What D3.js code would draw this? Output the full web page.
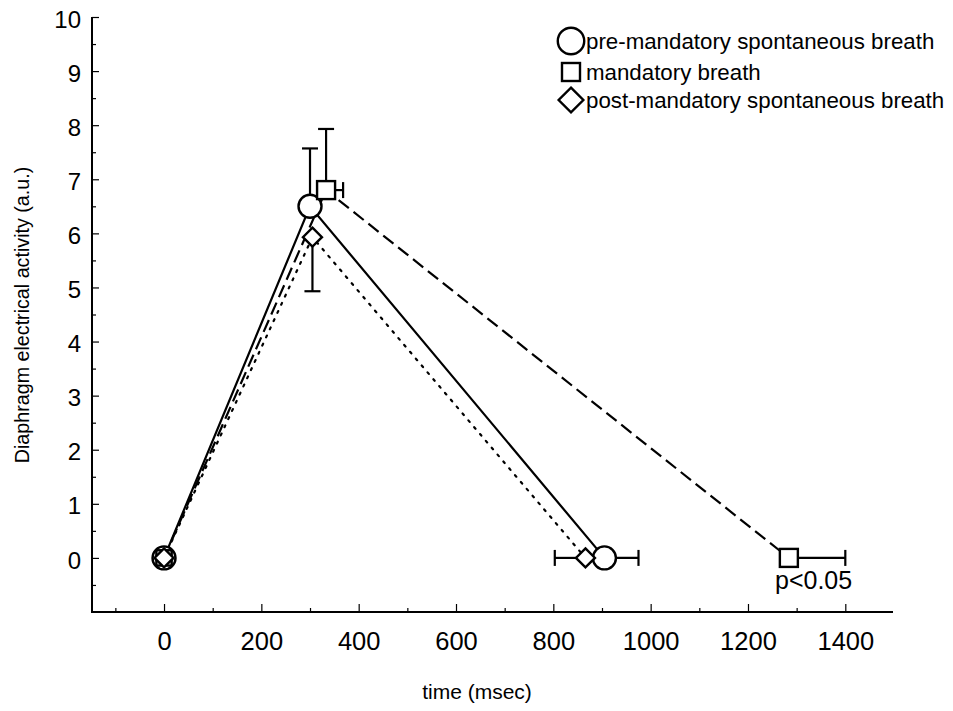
<!DOCTYPE html>
<html><head><meta charset="utf-8">
<script src="https://cdn.jsdelivr.net/npm/d3@7/dist/d3.min.js"></script>
<style>body{margin:0;background:#fff}text{font-family:"Liberation Sans",Arial,sans-serif;fill:#000}</style>
</head><body><svg id="c" width="953" height="711"></svg>
<script>
const xTicks = [0,200,400,600,800,1000,1200,1400];
const yTicks = [0,1,2,3,4,5,6,7,8,9,10];
const seriesNames = ["pre-mandatory spontaneous breath","mandatory breath","post-mandatory spontaneous breath"];
const preX = [0,300,905], preY = [0,6.5,0];
const manX = [0,333,1284], manY = [0,6.8,0];
const postX = [0,305,866], postY = [0,5.93,0];
// error bars: [x, y, x1, y1] end points
const preErr = [[300,6.5,300,7.57],[905,0,975,0]];
const manErr = [[333,6.8,333,7.93],[333,6.8,368,6.8],[1284,0,1400,0]];
const postErr = [[305,5.93,305,4.93],[866,0,803,0]];
const note = "p<0.05";

const svg = d3.select("#c");
const x = d3.scaleLinear().domain([-148,1498]).range([92,893]);
const y = d3.scaleLinear().domain([-1,10]).range([612,17]);

// axes
const g = svg.append("g");
g.append("line").attr("x1",92).attr("x2",92).attr("y1",y(10)).attr("y2",612).attr("stroke","#000").attr("stroke-width",2);
g.append("line").attr("x1",91).attr("x2",893).attr("y1",612).attr("y2",612).attr("stroke","#000").attr("stroke-width",2.2);
const xa = svg.append("g").attr("transform","translate(0,612)")
  .call(d3.axisBottom(x).tickValues(xTicks).tickSize(-8).tickPadding(20).tickFormat(d3.format("d")));
xa.select(".domain").remove();
xa.selectAll("text").attr("font-size",25.5);
const xm = svg.append("g").attr("transform","translate(0,612)")
  .call(d3.axisBottom(x).tickValues(d3.range(-100,1500,200)).tickSize(-4).tickFormat(""));
xm.select(".domain").remove();
const ya = svg.append("g").attr("transform","translate(92,0)")
  .call(d3.axisLeft(y).tickValues(yTicks).tickSize(-7).tickPadding(11).tickFormat(d3.format("d")));
ya.select(".domain").remove();
ya.selectAll("text").attr("font-size",24).attr("dy","0.42em");
const ym = svg.append("g").attr("transform","translate(92,0)")
  .call(d3.axisLeft(y).tickValues(d3.range(-0.5,10,1)).tickSize(-4).tickFormat(""));
ym.select(".domain").remove();
svg.selectAll(".tick line").attr("stroke-width",1.2);

svg.append("text").attr("x",477).attr("y",699).attr("text-anchor","middle").attr("font-size",21).text("time (msec)");
svg.append("text").attr("transform","translate(29,315) rotate(-90)").attr("text-anchor","middle").attr("font-size",19.7).text("Diaphragm electrical activity (a.u.)");

const line = d3.line().x(d=>x(d[0])).y(d=>y(d[1]));
const zip = (a,b)=>a.map((v,i)=>[v,b[i]]);
const series = [
  {xs:preX, ys:preY, err:preErr, dash:null, sym:"circle"},
  {xs:manX, ys:manY, err:manErr, dash:"13,6", sym:"square"},
  {xs:postX, ys:postY, err:postErr, dash:"2,7", sym:"diamond"}
];
// error bars
series.forEach(s=>{
  s.err.forEach(e=>{
    svg.append("line").attr("x1",x(e[0])).attr("y1",y(e[1])).attr("x2",x(e[2])).attr("y2",y(e[3])).attr("stroke","#000").attr("stroke-width",2.2);
    const vertical = e[0]===e[2];
    if(vertical){
      svg.append("line").attr("x1",x(e[2])-8).attr("x2",x(e[2])+8).attr("y1",y(e[3])).attr("y2",y(e[3])).attr("stroke","#000").attr("stroke-width",2.2);
    } else {
      svg.append("line").attr("x1",x(e[2])).attr("x2",x(e[2])).attr("y1",y(e[3])-8).attr("y2",y(e[3])+8).attr("stroke","#000").attr("stroke-width",2.2);
    }
  });
});
// lines
series.forEach(s=>{
  svg.append("path").attr("d",line(zip(s.xs,s.ys))).attr("fill","none").attr("stroke","#000").attr("stroke-width",2.2)
    .attr("stroke-dasharray",s.dash).attr("stroke-linecap",s.dash==="2,7"?"round":"butt");
});
function sym(type,cx,cy,sc){
  sc = sc||1;
  if(type==="circle") return svg.append("circle").attr("cx",cx).attr("cy",cy).attr("r",11.5*sc).attr("fill","#fff").attr("stroke","#000").attr("stroke-width",2.4);
  if(type==="square") return svg.append("rect").attr("x",cx-9*sc).attr("y",cy-9*sc).attr("width",18*sc).attr("height",18*sc).attr("fill","#fff").attr("stroke","#000").attr("stroke-width",2.4);
  return svg.append("path").attr("d",`M${cx},${cy-9.5*sc}L${cx+9.5*sc},${cy}L${cx},${cy+9.5*sc}L${cx-9.5*sc},${cy}Z`).attr("fill","#fff").attr("stroke","#000").attr("stroke-width",2.4);
}
// symbols
series.forEach(s=>{ s.xs.forEach((v,i)=>{ if(i>0) sym(s.sym,x(v),y(s.ys[i])); }); });
// origin overlap
sym("circle",x(0),y(0)); sym("square",x(0),y(0),0.85); sym("diamond",x(0),y(0));

svg.append("text").attr("x",775).attr("y",589).attr("font-size",25).text(note);

// legend
const leg = svg.append("g");
const ly = [41,72,100];
const lsc = [1.15,1.0,1.3];
seriesNames.forEach((n,i)=>{
  sym(series[i].sym,571,ly[i],lsc[i]);
  leg.append("text").attr("x",586).attr("y",ly[i]+8).attr("font-size",22.3).text(n);
});
</script></body></html>
